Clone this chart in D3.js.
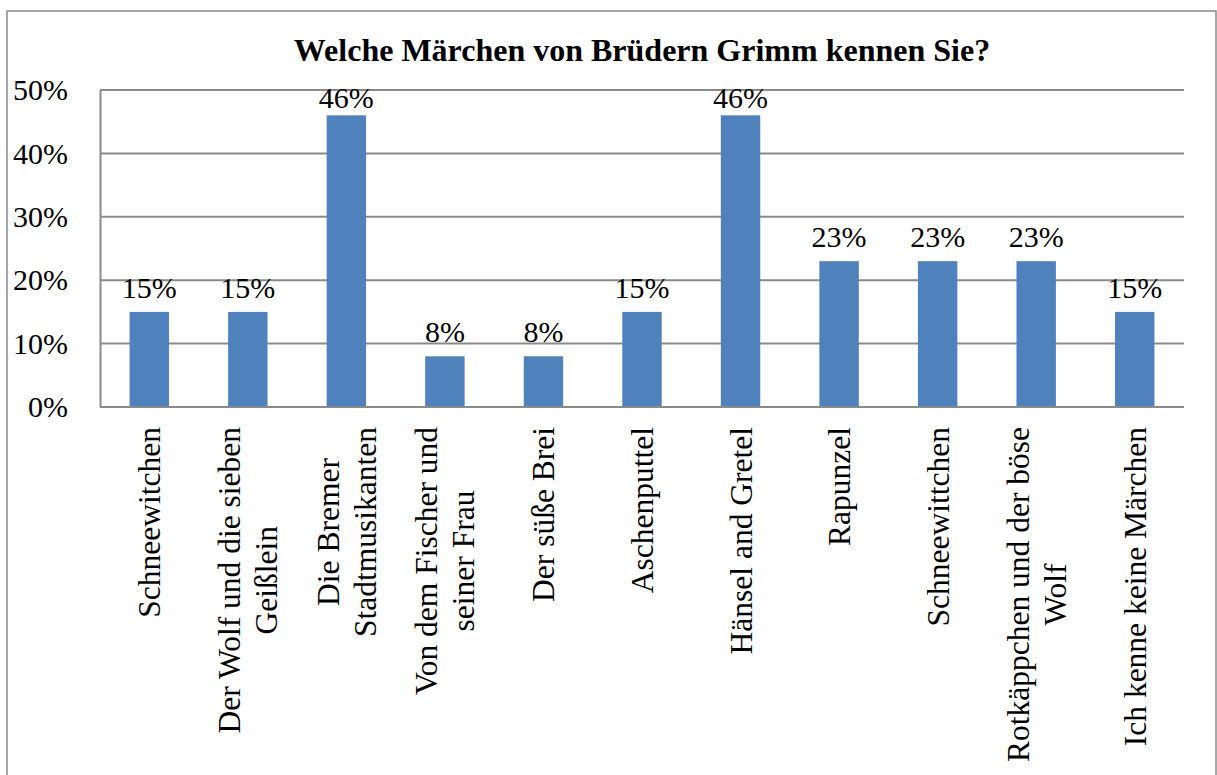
<!DOCTYPE html>
<html>
<head>
<meta charset="utf-8">
<script src="https://cdn.jsdelivr.net/npm/d3@7"></script>
<style>
  body { margin: 0; background: #fff; }
  text { font-family: "Liberation Serif", "Times New Roman", serif; fill: #000; }
</style>
</head>
<body>
<svg id="chart" width="1217" height="775"></svg>
<script>
// chart data
const categories = [
  "Schneewitchen",
  "Der Wolf und die sieben\nGeißlein",
  "Die Bremer\nStadtmusikanten",
  "Von dem Fischer und\nseiner Frau",
  "Der süße Brei",
  "Aschenputtel",
  "Hänsel and Gretel",
  "Rapunzel",
  "Schneewittchen",
  "Rotkäppchen und der böse\nWolf",
  "Ich kenne keine Märchen"
];
const values = [0.15, 0.15, 0.46, 0.08, 0.08, 0.15, 0.46, 0.23, 0.23, 0.23, 0.15];
const yTicks = [0, 0.1, 0.2, 0.3, 0.4, 0.5];
const title = "Welche Märchen von Brüdern Grimm kennen Sie?";

const svg = d3.select("#chart");
const margin = { top: 90, right: 33, bottom: 368, left: 100 };
const width = 1217 - margin.left - margin.right;
const height = 775 - margin.top - margin.bottom;
const gray = "#8a8a8a";

// outer frame (bottom edge runs off the picture)
svg.append("rect")
  .attr("x", 7).attr("y", 11)
  .attr("width", 1209).attr("height", 820)
  .attr("fill", "none").attr("stroke", gray).attr("stroke-width", 1.5);

// title
svg.append("text")
  .attr("x", margin.left + width / 2)
  .attr("y", 61)
  .attr("text-anchor", "middle")
  .attr("font-size", "32px")
  .attr("font-weight", "bold")
  .text(title);

const g = svg.append("g").attr("transform", `translate(${margin.left},${margin.top})`);

const x = d3.scaleBand().domain(categories).range([0, width]);
const y = d3.scaleLinear().domain([0, 0.5]).range([height, 0]);
const barW = x.bandwidth() * 0.4;

// gridlines
g.append("g")
  .selectAll("line")
  .data(yTicks.slice(1))
  .join("line")
  .attr("x1", 0).attr("x2", width)
  .attr("y1", d => y(d)).attr("y2", d => y(d))
  .attr("stroke", gray).attr("stroke-width", 2);

// y axis
const yAxis = g.append("g")
  .call(d3.axisLeft(y).tickValues(yTicks).tickFormat(d3.format(".0%")).tickSize(0).tickPadding(32));
yAxis.select(".domain").attr("stroke", gray).attr("stroke-width", 2);
yAxis.selectAll("text").attr("font-size", "30px").attr("font-family", "Liberation Serif");

// bars
g.selectAll("rect.bar")
  .data(values)
  .join("rect")
  .attr("class", "bar")
  .attr("x", (d, i) => x(categories[i]) + (x.bandwidth() - barW) / 2)
  .attr("y", d => y(d))
  .attr("width", barW)
  .attr("height", d => height - y(d))
  .attr("fill", "#4F81BD");

// x axis line
g.append("line")
  .attr("x1", 0).attr("x2", width)
  .attr("y1", height).attr("y2", height)
  .attr("stroke", gray).attr("stroke-width", 2);

// value labels, kept inside the plot area like Excel does
g.selectAll("text.val")
  .data(values)
  .join("text")
  .attr("class", "val")
  .attr("x", (d, i) => x(categories[i]) + x.bandwidth() / 2)
  .attr("y", d => Math.max(y(d) - 14, y(0.5) + 18))
  .attr("text-anchor", "middle")
  .attr("font-size", "30px")
  .text(d => d3.format(".0%")(d));

// rotated category labels, top-aligned below the axis, lines centred on each other
const labelTop = height + 20;
const lineH = 37;
categories.forEach((c, i) => {
  const lines = c.split("\n");
  const cx = x(c) + x.bandwidth() / 2;
  const grp = g.append("g");
  const texts = lines.map((t, k) => grp.append("text")
    .attr("font-size", "31.5px")
    .attr("text-anchor", "middle")
    .attr("dy", "0.35em")
    .text(t));
  const maxLen = d3.max(texts, t => t.node().getComputedTextLength());
  texts.forEach((t, k) => {
    const px = cx + (k - (lines.length - 1) / 2) * lineH;
    const py = labelTop + maxLen / 2;
    t.attr("transform", `translate(${px},${py}) rotate(-90)`);
  });
});
</script>
</body>
</html>
